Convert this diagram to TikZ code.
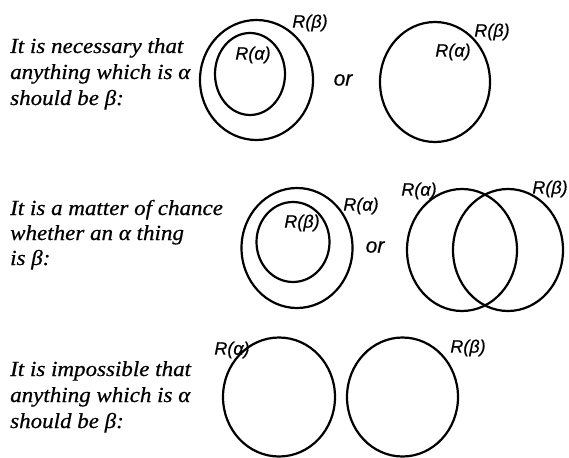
\documentclass[tikz,border=0pt]{standalone}
\usepackage{fontspec}
\setmainfont{Liberation Serif}
\newfontfamily\txtfont[FakeStretch=1.07,FakeBold=0.6]{Liberation Serif}
\newfontfamily\labfont[FakeBold=0.5]{Liberation Sans}
\usetikzlibrary{shapes.geometric}
\tikzset{
  txt/.style={anchor=base west, inner sep=0pt, font=\txtfont\itshape\fontsize{21.5}{24}\selectfont},
  ring/.style 2 args={ellipse, draw, line width=2.2pt, inner sep=0pt,
    minimum width=#1pt, minimum height=#2pt},
  lab/.style={inner sep=0pt, font=\labfont\itshape\fontsize{18}{18}\selectfont},
  ortxt/.style={inner sep=0pt, font=\labfont\itshape\fontsize{21}{21}\selectfont}
}
\begin{document}
\begin{tikzpicture}[x=1pt,y=-1pt]
\useasboundingbox (0,0) rectangle (569,457);
% row 1 text
\node[txt] (t1a) at (10,53) {It is necessary that};
\node[txt] (t1b) at (10,79) {anything which is α};
\node[txt] (t1c) at (10,105) {should be β:};
% row 1 diagrams
\node[ring={113}{120}] (c1o) at (256.5,80) {};
\node[ring={70}{82}] (c1i) at (250,74) {};
\node[lab] (l1b) at (310,23) {R(β)};
\node[lab] (l1a) at (253,55) {R(α)};
\node[ortxt] (or1) at (343,80) {or};
\node[ring={110}{120}] (c1r) at (435,82) {};
\node[lab] (l1ra) at (453,52) {R(α)};
\node[lab] (l1rb) at (492,32) {R(β)};
% row 2 text
\node[txt] (t2a) at (10,215) {It is a matter of chance};
\node[txt] (t2b) at (10,240) {whether an α thing};
\node[txt] (t2c) at (10,265) {is β:};
% row 2 diagrams
\node[ring={111}{120}] (c2o) at (297,248) {};
\node[ring={73}{80}] (c2i) at (293,242) {};
\node[lab] (l2b) at (302,223) {R(β)};
\node[lab] (l2a) at (361,206) {R(α)};
\node[ortxt] (or2) at (375,247) {or};
\node[ring={110}{122}] (c2l) at (462,250) {};
\node[ring={110}{122}] (c2r) at (508,250) {};
\node[lab] (l2la) at (419,191) {R(α)};
\node[lab] (l2rb) at (550,189) {R(β)};
% row 3 text
\node[txt] (t3a) at (10,376) {It is impossible that};
\node[txt] (t3b) at (10,402) {anything which is α};
\node[txt] (t3c) at (10,428) {should be β:};
% row 3 diagrams
\node[ring={112}{119}] (c3l) at (279,397) {};
\node[ring={111}{119}] (c3r) at (402.5,397) {};
\node[lab] (l3a) at (232,350) {R(α)};
\node[lab] (l3b) at (468,348) {R(β)};
\end{tikzpicture}
\end{document}
